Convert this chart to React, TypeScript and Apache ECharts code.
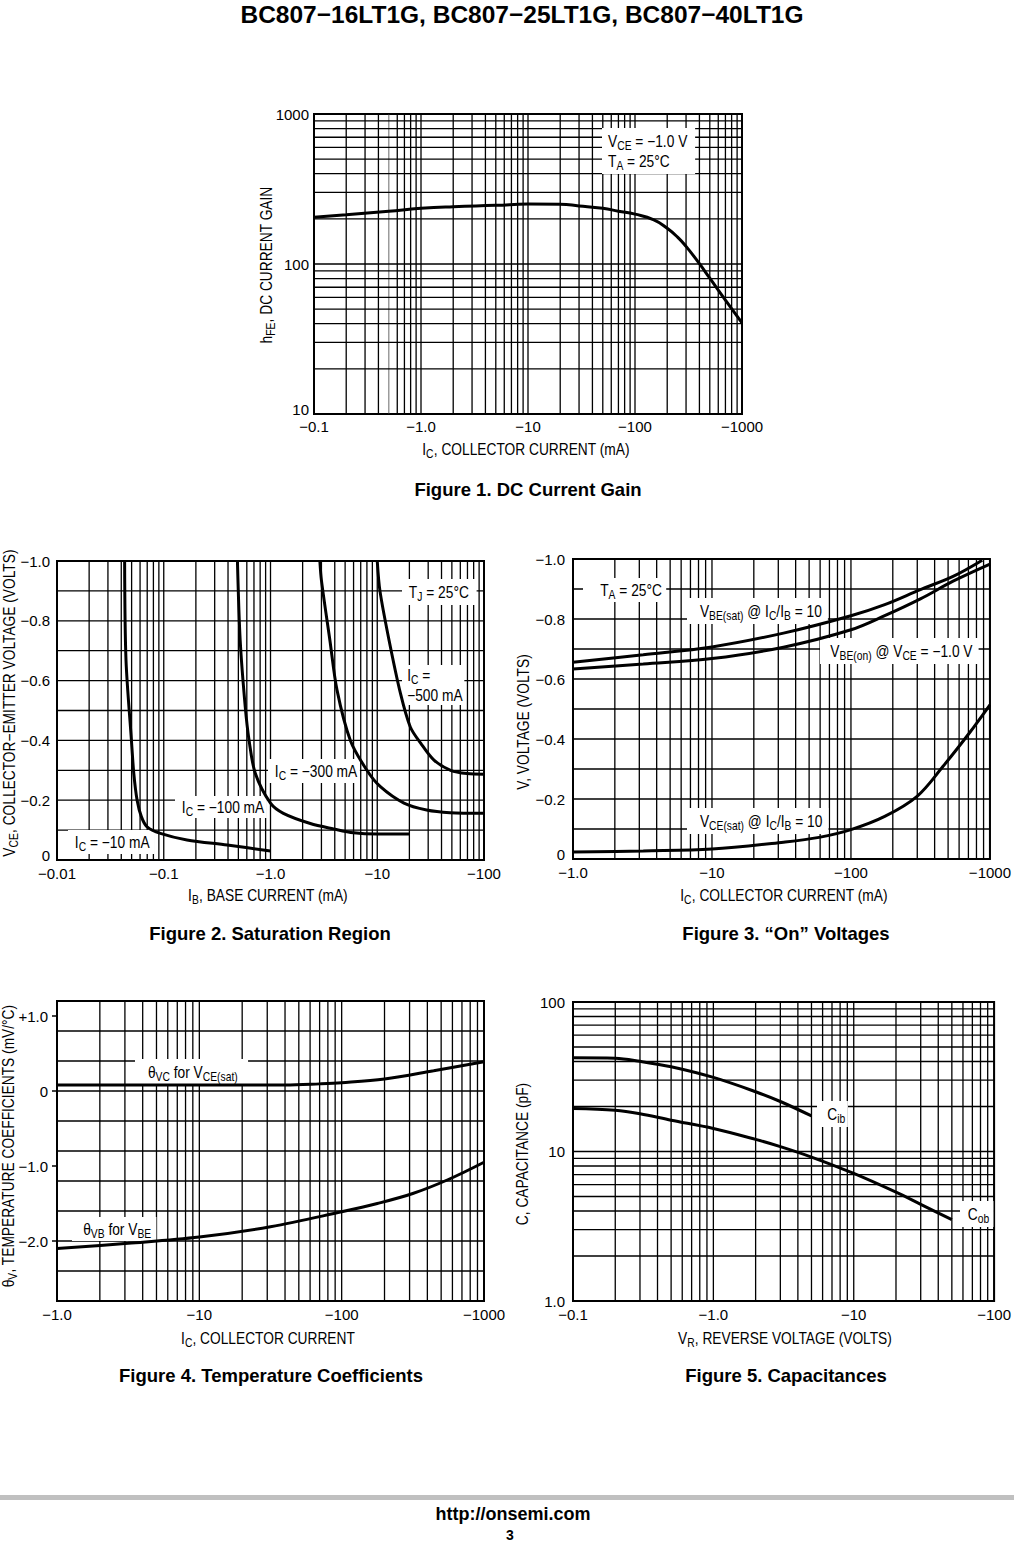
import React, { useEffect, useRef } from "react";
import * as echarts from "echarts";

const NARROW = "'Liberation Sans Narrow', 'Liberation Sans', Arial, sans-serif";
const SANS = "'Liberation Sans', Arial, Helvetica, sans-serif";
const SQUEEZE = 0.86; // horizontal condensing of the datasheet's narrow face

// ---------- Figure 1: DC current gain ----------
const fig1IcMa = [0.1, 0.2, 0.5, 1, 2, 5, 10, 20, 30, 50, 70, 100, 150, 200, 250, 300, 400, 500, 700, 1000];
const fig1Hfe = [205, 213, 225, 235, 241, 246, 251, 250, 244, 235, 225, 215, 197, 173, 151, 131, 100.5, 80.4, 57.4, 40.5];
const fig1XTickLabels = ["−0.1", "−1.0", "−10", "−100", "−1000"]; // 10^-1 .. 10^3
const fig1YTickLabels = ["10", "100", "1000"]; // 10^1 .. 10^3

// ---------- Figure 2: saturation region ----------
const fig2Ic10IbMa = [0.043, 0.0443, 0.0498, 0.0524, 0.0563, 0.0617, 0.0698, 0.093, 0.165, 0.393, 1.0];
const fig2Ic10Vce = [-1.0, -0.668, -0.4, -0.29, -0.2, -0.145, -0.111, -0.089, -0.067, -0.05, -0.03];
const fig2Ic100IbMa = [0.49, 0.52, 0.58, 0.63, 0.72, 1.0, 1.32, 2.36, 3.9, 6.0, 10, 20];
const fig2Ic100Vce = [-1.0, -0.735, -0.512, -0.4, -0.29, -0.19, -0.156, -0.122, -0.104, -0.091, -0.087, -0.087];
const fig2Ic300IbMa = [2.9, 3.0, 3.6, 4.2, 5.6, 8.0, 10.7, 17.8, 29, 48, 100];
const fig2Ic300Vce = [-1.0, -0.935, -0.735, -0.568, -0.4, -0.3, -0.245, -0.19, -0.167, -0.158, -0.156];
const fig2Ic500IbMa = [10, 10.6, 12.9, 16.5, 20.4, 25.6, 34, 48.7, 69.4, 100];
const fig2Ic500Vce = [-1.0, -0.9, -0.735, -0.557, -0.445, -0.39, -0.334, -0.3, -0.289, -0.287];
const fig2XTickLabels = ["−0.01", "−0.1", "−1.0", "−10", "−100"]; // 10^-2 .. 10^2
const fig2YTickValues = [-1.0, -0.8, -0.6, -0.4, -0.2, 0];
const fig2YTickLabels = ["−1.0", "−0.8", "−0.6", "−0.4", "−0.2", "0"];

// ---------- Figure 3: "On" voltages ----------
const fig3VbeSatIc = [1, 3.2, 10, 32.7, 100, 175, 316, 543, 880];
const fig3VbeSat = [-0.656, -0.681, -0.707, -0.753, -0.811, -0.848, -0.898, -0.942, -0.996];
const fig3VbeOnIc = [1, 3.2, 10, 32.7, 100, 175, 316, 543, 1000];
const fig3VbeOn = [-0.633, -0.65, -0.668, -0.706, -0.764, -0.811, -0.867, -0.926, -0.983];
const fig3VceSatIc = [1, 3.2, 10, 32.7, 59, 100, 175, 299, 460, 711, 1000];
const fig3VceSat = [-0.023, -0.027, -0.033, -0.056, -0.072, -0.098, -0.142, -0.209, -0.309, -0.42, -0.514];
const fig3XTickLabels = ["−1.0", "−10", "−100", "−1000"]; // 10^0 .. 10^3
const fig3YTickValues = [-1.0, -0.8, -0.6, -0.4, -0.2, 0];
const fig3YTickLabels = ["−1.0", "−0.8", "−0.6", "−0.4", "−0.2", "0"];

// ---------- Figure 4: temperature coefficients ----------
const fig4ThetaVcIc = [1, 10, 40, 70, 100, 200, 443, 1000];
const fig4ThetaVc = [0.08, 0.08, 0.08, 0.095, 0.11, 0.16, 0.27, 0.39];
const fig4ThetaVbIc = [1, 3.16, 10, 31.6, 100, 178, 316, 562, 1000];
const fig4ThetaVb = [-2.1, -2.03, -1.947, -1.81, -1.61, -1.5, -1.367, -1.18, -0.95];
const fig4XTickLabels = ["−1.0", "−10", "−100", "−1000"];
const fig4YTickValues = [-2, -1, 0, 1];
const fig4YTickLabels = ["−2.0", "−1.0", "0", "+1.0"];

// ---------- Figure 5: capacitances ----------
const fig5CibVr = [0.1, 0.2, 0.3, 0.5, 1, 2, 3, 5];
const fig5Cib = [42.3, 42.05, 40.1, 36.9, 31.3, 25.1, 21.6, 17.3];
const fig5CobVr = [0.1, 0.2, 0.3, 0.5, 1, 2, 3, 5, 10, 20, 30, 50];
const fig5Cob = [19.4, 18.9, 17.9, 16.2, 14.25, 12.05, 10.78, 9.18, 7.13, 5.34, 4.43, 3.5];
const fig5XTickLabels = ["−0.1", "−1.0", "−10", "−100"]; // 10^-1 .. 10^2
const fig5YTickLabels = ["1.0", "10", "100"]; // 10^0 .. 10^2

// ---------- helpers ----------
const zip = (xs: number[], ys: number[]) => xs.map((x, i) => [x, ys[i]]);

function logLines(minExp: number, maxExp: number): number[] {
  const out: number[] = [];
  for (let e = minExp; e < maxExp; e++) {
    for (let k = 1; k <= 9; k++) out.push(Number((k * Math.pow(10, e)).toPrecision(4)));
  }
  out.push(Number(Math.pow(10, maxExp).toPrecision(4)));
  return out;
}
function linLines(min: number, max: number, step: number): number[] {
  const n = Math.round((max - min) / step);
  const out: number[] = [];
  for (let i = 0; i <= n; i++) out.push(Number((min + i * step).toFixed(4)));
  return out;
}
function gridItems(xs: number[], ys: number[], xr: [number, number], yr: [number, number], grayX: number[] = []) {
  const items: number[][] = [];
  xs.forEach((x) => items.push([x, yr[0], x, yr[1], grayX.indexOf(x) >= 0 ? 1 : 0]));
  ys.forEach((y) => items.push([xr[0], y, xr[1], y, 0]));
  return items;
}
const logFmt = (labels: string[], startExp: number) => (v: number) => {
  const i = Math.round(Math.log10(v)) - startExp;
  return labels[i] ?? "";
};
const valFmt = (values: number[], labels: string[]) => (v: number) => {
  const i = values.findIndex((t) => Math.abs(t - v) < 1e-6);
  return i >= 0 ? labels[i] : "";
};
// lift the lowest label a little, as the datasheet does, so it clears the x labels
const lifted = (base: (v: number) => string, isLowest: (v: number) => boolean) => (v: number) => {
  const t = base(v);
  return isLowest(v) ? "{lo|" + t + "}" : t;
};

const rich = {
  m: { fontSize: 16, fontFamily: NARROW, fill: "#000", lineHeight: 20 },
  s: { fontSize: 12, fontFamily: NARROW, fill: "#000", lineHeight: 20, padding: [9, 0, 0, 0] },
};

function note(text: string, x: number, y: number, padding: number[], z = 3): any {
  return {
    type: "text",
    x,
    y,
    z,
    scaleX: SQUEEZE,
    style: {
      text,
      rich,
      fill: "#000",
      fontFamily: NARROW,
      fontSize: 16,
      align: "left",
      verticalAlign: "middle",
      backgroundColor: "#fff",
      padding,
    },
  };
}
function axisName(text: string, x: number, y: number, rotate = false): any {
  return {
    type: "text",
    x,
    y,
    z: 3,
    scaleX: SQUEEZE,
    rotation: rotate ? Math.PI / 2 : 0,
    style: { text, rich, fill: "#000", fontFamily: NARROW, fontSize: 16, align: "center", verticalAlign: "middle" },
  };
}
function plain(text: string, x: number, y: number, size: number, weight = "bold", family = SANS): any {
  return {
    type: "text",
    x,
    y,
    z: 3,
    style: { text, fill: "#000", fontFamily: family, fontSize: size, fontWeight: weight, align: "center", verticalAlign: "middle" },
  };
}

function gridSeries(idx: number, data: number[][]): any {
  return {
    type: "custom",
    xAxisIndex: idx,
    yAxisIndex: idx,
    z: 1,
    silent: true,
    clip: false,
    data,
    renderItem: (_p: any, api: any) => {
      const a = api.coord([api.value(0), api.value(1)]);
      const b = api.coord([api.value(2), api.value(3)]);
      return {
        type: "line",
        shape: { x1: a[0], y1: a[1], x2: b[0], y2: b[1] },
        style: { stroke: api.value(4) ? "#8c8c8c" : "#000", lineWidth: 1.3 },
      };
    },
  };
}
function curve(idx: number, xs: number[], ys: number[], smooth = 0.35): any {
  return {
    type: "line",
    xAxisIndex: idx,
    yAxisIndex: idx,
    z: 5,
    silent: true,
    data: zip(xs, ys),
    smooth,
    symbol: "none",
    lineStyle: { color: "#000", width: 3 },
  };
}

const labelBase = { color: "#000", fontFamily: SANS, fontSize: 15 };
const loRich = { lo: { color: "#000", fontFamily: SANS, fontSize: 15, padding: [0, 0, 9, 0] } };
const hidden = { show: false };

function logAxis(idx: number, min: number, max: number, fmt: (v: number) => string, margin: number, extra: any = {}): any {
  return {
    type: "log",
    logBase: 10,
    gridIndex: idx,
    min,
    max,
    axisLine: hidden,
    axisTick: hidden,
    splitLine: hidden,
    minorSplitLine: hidden,
    axisLabel: { ...labelBase, formatter: fmt, margin, hideOverlap: false, showMinLabel: true, showMaxLabel: true, ...extra },
  };
}

function buildOption(): any {
  const grids = [
    { left: 314, top: 114, width: 428, height: 300 },
    { left: 57, top: 561, width: 427, height: 299 },
    { left: 573, top: 559, width: 426, height: 300 },
    { left: 57, top: 1001, width: 427, height: 300 },
    { left: 573, top: 1002, width: 426, height: 299 },
  ].map((g) => ({ ...g, show: true, borderColor: "#000", borderWidth: 2, backgroundColor: "transparent" }));

  const xAxis = [
    logAxis(0, 0.1, 1000, logFmt(fig1XTickLabels, -1), 5),
    logAxis(1, 0.01, 100, logFmt(fig2XTickLabels, -2), 6),
    logAxis(2, 1, 1000, logFmt(fig3XTickLabels, 0), 6),
    logAxis(3, 1, 1000, logFmt(fig4XTickLabels, 0), 6),
    logAxis(4, 0.1, 100, logFmt(fig5XTickLabels, -1), 6),
  ];
  const isZero = (v: number) => Math.abs(v) < 1e-6;
  const yAxis = [
    logAxis(0, 10, 1000, lifted(logFmt(fig1YTickLabels, 1), (v) => Math.round(Math.log10(v)) === 1), 5, { rich: loRich }),
    {
      type: "value", gridIndex: 1, min: -1, max: 0, interval: 0.2, inverse: true,
      axisLine: hidden, axisTick: hidden, splitLine: hidden,
      axisLabel: { ...labelBase, margin: 7, rich: loRich, formatter: lifted(valFmt(fig2YTickValues, fig2YTickLabels), isZero) },
    },
    {
      type: "value", gridIndex: 2, min: -1, max: 0, interval: 0.2, inverse: true,
      axisLine: hidden, axisTick: hidden, splitLine: hidden,
      axisLabel: { ...labelBase, margin: 8, rich: loRich, formatter: lifted(valFmt(fig3YTickValues, fig3YTickLabels), isZero) },
    },
    {
      type: "value", gridIndex: 3, min: -2.8, max: 1.2,
      axisLine: hidden, splitLine: hidden,
      axisTick: { show: true, customValues: fig4YTickValues, length: 5, lineStyle: { color: "#000", width: 1.5 } },
      axisLabel: { ...labelBase, margin: 9, customValues: fig4YTickValues, formatter: valFmt(fig4YTickValues, fig4YTickLabels) },
    },
    logAxis(4, 1, 100, logFmt(fig5YTickLabels, 0), 8),
  ];

  const series = [
    gridSeries(0, gridItems(logLines(-1, 3), logLines(1, 3), [0.1, 1000], [10, 1000], [0.5])),
    gridSeries(1, gridItems(logLines(-2, 2), linLines(-1, 0, 0.1), [0.01, 100], [-1, 0])),
    gridSeries(2, gridItems(logLines(0, 3), linLines(-1, 0, 0.1), [1, 1000], [-1, 0])),
    gridSeries(3, gridItems(logLines(0, 3), linLines(-2.8, 1.2, 0.4), [1, 1000], [-2.8, 1.2])),
    gridSeries(4, gridItems(logLines(-1, 2), logLines(0, 2), [0.1, 100], [1, 100])),
    curve(0, fig1IcMa, fig1Hfe, 0.5),
    curve(1, fig2Ic10IbMa, fig2Ic10Vce, 0.3),
    curve(1, fig2Ic100IbMa, fig2Ic100Vce, 0.3),
    curve(1, fig2Ic300IbMa, fig2Ic300Vce, 0.3),
    curve(1, fig2Ic500IbMa, fig2Ic500Vce, 0.3),
    curve(2, fig3VbeSatIc, fig3VbeSat),
    curve(2, fig3VbeOnIc, fig3VbeOn),
    curve(2, fig3VceSatIc, fig3VceSat),
    curve(3, fig4ThetaVcIc, fig4ThetaVc),
    curve(3, fig4ThetaVbIc, fig4ThetaVb),
    curve(4, fig5CibVr, fig5Cib),
    curve(4, fig5CobVr, fig5Cob),
  ];

  const graphic = [
    plain("BC807−16LT1G, BC807−25LT1G, BC807−40LT1G", 522, 14, 24.5),
    // Figure 1
    note("{m|V}{s|CE}{m| = −1.0 V}\n{m|T}{s|A}{m| = 25°C}", 602, 151, [3, 9, 3, 7]),
    axisName("{m|I}{s|C}{m|, COLLECTOR CURRENT (mA)}", 526, 449),
    axisName("{m|h}{s|FE}{m|, DC CURRENT GAIN}", 266, 265, true),
    plain("Figure 1. DC Current Gain", 528, 489, 18.5),
    // Figure 2
    note("{m|T}{s|J}{m| = 25°C}", 402, 592, [3, 9, 3, 8]),
    note("{m|I}{s|C}{m| =}\n{m|−500 mA}", 402, 685, [0, 2, 0, 6]),
    note("{m|I}{s|C}{m| = −300 mA}", 268, 771, [2, 3, 2, 8]),
    note("{m|I}{s|C}{m| = −100 mA}", 175, 807, [1, 3, 1, 8]),
    note("{m|I}{s|C}{m| = −10 mA}", 68, 842, [2, 6, 2, 8]),
    axisName("{m|I}{s|B}{m|, BASE CURRENT (mA)}", 268, 895),
    axisName("{m|V}{s|CE}{m|, COLLECTOR−EMITTER VOLTAGE (VOLTS)}", 9, 703, true),
    plain("Figure 2. Saturation Region", 270, 933, 18.5),
    // Figure 3
    note("{m|T}{s|A}{m| = 25°C}", 583, 590, [2, 5, 2, 20]),
    note("{m|V}{s|BE(sat)}{m| @ I}{s|C}{m|/I}{s|B}{m| = 10}", 687, 611, [3, 7, 3, 15]),
    note("{m|V}{s|BE(on)}{m| @ V}{s|CE}{m| = −1.0 V}", 820, 651, [3, 7, 3, 12]),
    note("{m|V}{s|CE(sat)}{m| @ I}{s|C}{m|/I}{s|B}{m| = 10}", 687, 821, [3, 7, 3, 15]),
    axisName("{m|I}{s|C}{m|, COLLECTOR CURRENT (mA)}", 784, 895),
    axisName("{m|V, VOLTAGE (VOLTS)}", 523, 722, true),
    plain("Figure 3. “On” Voltages", 786, 933, 18.5),
    // Figure 4
    note("{m|θ}{s|VC}{m| for V}{s|CE(sat)}", 135, 1072, [3, 12, 3, 15]),
    note("{m|θ}{s|VB}{m| for V}{s|BE}", 72, 1229, [2, 6, 2, 13]),
    axisName("{m|I}{s|C}{m|, COLLECTOR CURRENT}", 268, 1338),
    axisName("{m|θ}{s|V}{m|, TEMPERATURE COEFFICIENTS (mV/°C)}", 8, 1146, true),
    plain("Figure 4. Temperature Coefficients", 271, 1375, 18.5),
    // Figure 5
    note("{m|C}{s|ib}", 817, 1114, [3, 3, 3, 12]),
    note("{m|C}{s|ob}", 960, 1214, [3, 5, 3, 9]),
    axisName("{m|V}{s|R}{m|, REVERSE VOLTAGE (VOLTS)}", 785, 1338),
    axisName("{m|C, CAPACITANCE (pF)}", 522, 1154, true),
    plain("Figure 5. Capacitances", 786, 1375, 18.5),
    // footer
    { type: "rect", z: 2, shape: { x: 0, y: 1495, width: 1014, height: 5 }, style: { fill: "#c0c0c0" } },
    plain("http://onsemi.com", 513, 1514, 18),
    plain("3", 510, 1535, 14),
  ];

  return {
    animation: false,
    backgroundColor: "#fff",
    grid: grids,
    xAxis,
    yAxis,
    series,
    graphic,
  };
}

export default function App() {
  const ref = useRef<HTMLDivElement>(null);
  useEffect(() => {
    if (!ref.current) return;
    const chart = echarts.init(ref.current, undefined, { renderer: "svg" });
    chart.setOption(buildOption());
    return () => chart.dispose();
  }, []);
  return (
    <div
      ref={ref}
      style={{ position: "absolute", left: 0, top: 0, width: 1014, height: 1542, background: "#fff" }}
    />
  );
}
